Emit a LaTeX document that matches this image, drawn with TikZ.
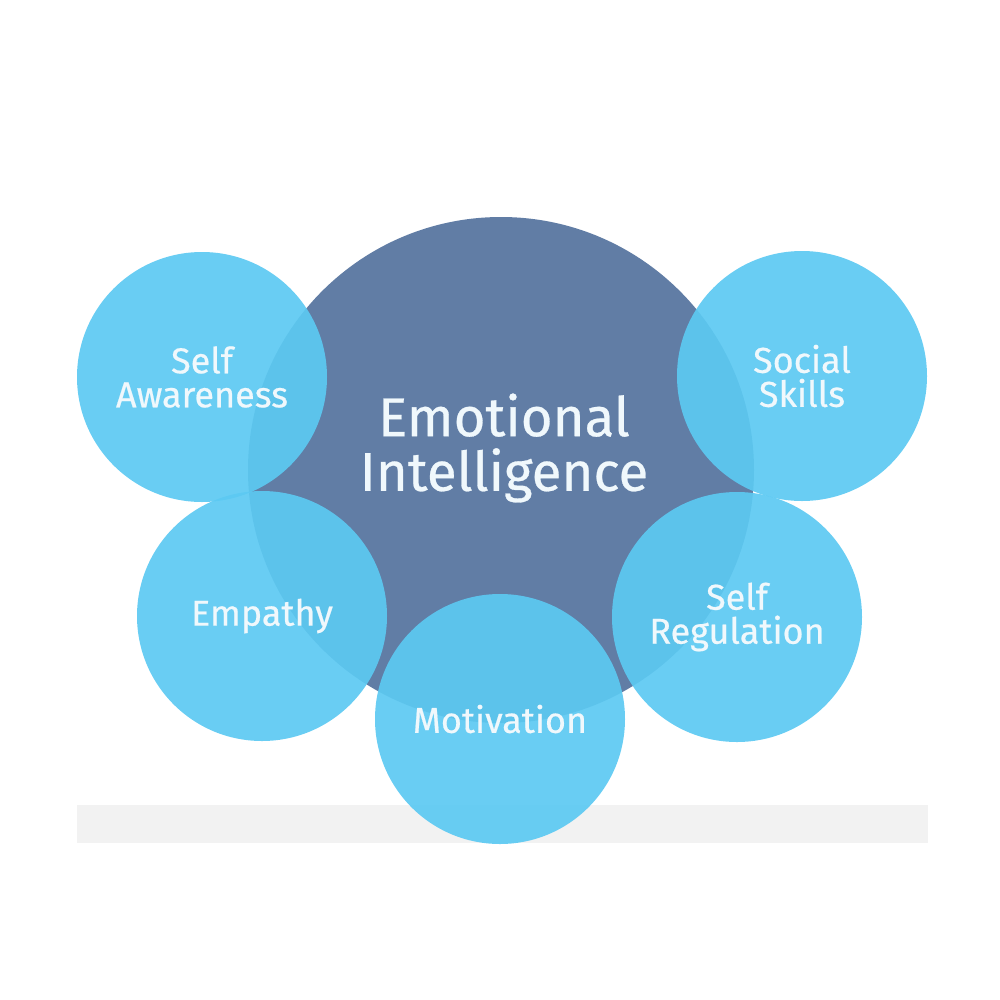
\documentclass[tikz,border=0pt]{standalone}
\usepackage{fontspec}
\setmainfont{Fira Sans}[FakeBold=0.5]
\usepackage{tikz}
\usepackage{xcolor}
\definecolor{coreblue}{RGB}{97,125,165}
\definecolor{bubbleblue}{RGB}{92,201,242}
\definecolor{bandgray}{RGB}{242,242,242}
\definecolor{labelwhite}{RGB}{240,248,252}

\tikzset{
  core/.style={circle,fill=coreblue,minimum size=379.5pt,inner sep=0pt},
  corelabel/.style={align=center,inner sep=0pt,text=labelwhite,font=\fontsize{41}{41}\selectfont},
  bubble/.style={circle,fill=bubbleblue,fill opacity=0.92,text opacity=1,minimum size=187.5pt,
    inner sep=0pt,align=center,text=labelwhite,font=\fontsize{27}{25.5}\selectfont}
}

\begin{document}
\begin{tikzpicture}[x=0.75pt,y=0.75pt,yscale=-1,xscale=1]
\useasboundingbox (0,0) rectangle (1000,1000);

%Shape: Rectangle [id:band]
\fill [bandgray] (77,805) rectangle (928,843);

%Shape: Circle [id:core]
\node (core) [core] at (501,470) {};
% Text Node
\node (emoint) [corelabel] at (504,448) {Emotional\\Intelligence};

%Shape: Circle [id:bubbles]
\node (selfaw) [bubble] at (202,377) {Self\\Awareness};
\node (social) [bubble] at (802,376) {Social\\Skills};
\node (empathy) [bubble] at (262,616) {Empathy};
\node (selfreg) [bubble] at (737,617) {Self\\Regulation};
\node (motiv) [bubble] at (500,719) {Motivation};

\end{tikzpicture}
\end{document}
